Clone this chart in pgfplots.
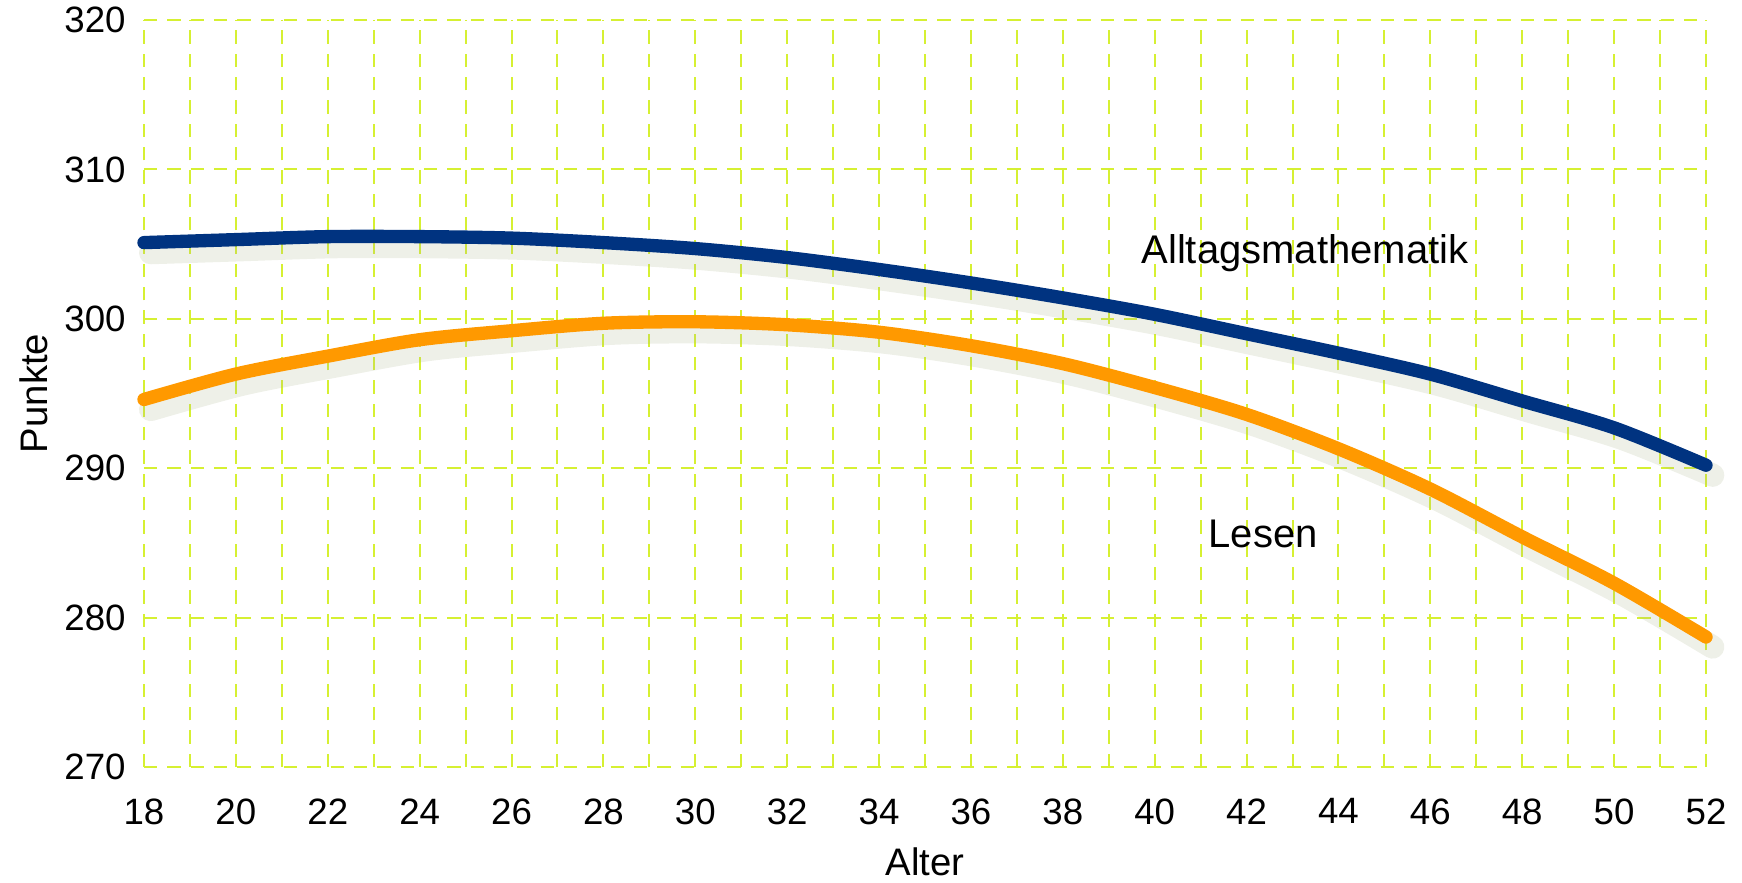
\documentclass[border=0pt]{standalone}
\usepackage{pgfplots}
\pgfplotsset{compat=1.18}
\usepackage{fontspec}
\setmainfont{Liberation Sans}
\definecolor{gridc}{RGB}{214,240,50}
\definecolor{navy}{RGB}{0,51,128}
\definecolor{orng}{RGB}{255,153,0}
\definecolor{shad}{RGB}{170,180,140}
\begin{document}
\begin{tikzpicture}
\begin{axis}[
  scale only axis,
  width=468.6pt, height=224.1pt,
  xmin=18, xmax=52, ymin=270, ymax=320,
  axis line style={draw=none},
  major tick length=0pt, minor tick length=0pt,
  xtick={18,20,...,52},
  ytick={270,280,...,320},
  minor x tick num=1,
  grid=both,
  major grid style={gridc, line width=0.6pt, dash pattern=on 4pt off 3pt},
  minor grid style={gridc, line width=0.6pt, dash pattern=on 4pt off 3pt},
  /pgf/number format/assume math mode=true,
  tick label style={font=\fontsize{11}{13}\selectfont},
  xticklabel style={yshift=-6pt},
  yticklabel style={xshift=-2pt},
  xlabel={Alter}, ylabel={Punkte},
  label style={font=\fontsize{11.5}{13}\selectfont},
  xlabel style={yshift=0pt},
  ylabel style={yshift=-2pt},
  clip=false,
]
% shadows
\addplot[shad, opacity=0.2, line width=7pt, smooth, line cap=round, xshift=2pt, yshift=-3pt] coordinates {
(18,305.1)(20,305.3)(22,305.5)(24,305.5)(26,305.4)(28,305.1)(30,304.7)(32,304.1)(34,303.3)(36,302.4)(38,301.4)(40,300.3)(42,299.0)(44,297.7)(46,296.3)(48,294.5)(50,292.7)(52,290.2)};
\addplot[shad, opacity=0.2, line width=7pt, smooth, line cap=round, xshift=2pt, yshift=-3pt] coordinates {
(18,294.6)(20,296.3)(22,297.5)(24,298.6)(26,299.2)(28,299.7)(30,299.8)(32,299.6)(34,299.1)(36,298.2)(38,297.0)(40,295.4)(42,293.6)(44,291.3)(46,288.6)(48,285.4)(50,282.3)(52,278.7)};
% curves
\addplot[navy, line width=4pt, smooth, line cap=round] coordinates {
(18,305.1)(20,305.3)(22,305.5)(24,305.5)(26,305.4)(28,305.1)(30,304.7)(32,304.1)(34,303.3)(36,302.4)(38,301.4)(40,300.3)(42,299.0)(44,297.7)(46,296.3)(48,294.5)(50,292.7)(52,290.2)};
\addplot[orng, line width=4pt, smooth, line cap=round] coordinates {
(18,294.6)(20,296.3)(22,297.5)(24,298.6)(26,299.2)(28,299.7)(30,299.8)(32,299.6)(34,299.1)(36,298.2)(38,297.0)(40,295.4)(42,293.6)(44,291.3)(46,288.6)(48,285.4)(50,282.3)(52,278.7)};
\node[font=\fontsize{12}{14}\selectfont] at (axis cs:43.27,304.4) {Alltagsmathematik};
\node[font=\fontsize{12}{14}\selectfont] at (axis cs:42.36,285.6) {Lesen};
\end{axis}
\pgfresetboundingbox
\path ([shift={(-43.2pt,-34.8pt)}]current axis.south west) rectangle ([shift={(10.8pt,6pt)}]current axis.north east);
\end{tikzpicture}
\end{document}
